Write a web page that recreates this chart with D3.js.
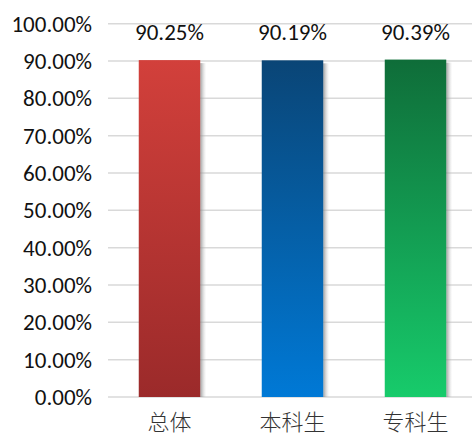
<!DOCTYPE html>
<html><head><meta charset="utf-8">
<script src="https://cdn.jsdelivr.net/npm/d3@7"></script>
<style>body{margin:0;background:#fff}</style>
</head><body>
<svg id="c" width="472" height="436"></svg>
<script>
const categories = ["总体", "本科生", "专科生"];
const values = [90.25, 90.19, 90.39];
const yTicks = [0,10,20,30,40,50,60,70,80,90,100];
const gradTop = ["#d2403b", "#0a4576", "#0f6d39"];
const gradBottom = ["#9b2a2a", "#0079d6", "#17cb6b"];

const svg = d3.select("#c");
const x = d3.scaleBand().domain(categories).range([108, 477]).paddingInner(0.5).paddingOuter(0.25);
const y = d3.scaleLinear().domain([0, 100]).range([397, 23.7]);

const defs = svg.append("defs");
categories.forEach((c, i) => {
  const g = defs.append("linearGradient").attr("id", "g" + i).attr("x1", 0).attr("y1", 0).attr("x2", 0).attr("y2", 1);
  g.append("stop").attr("offset", "0%").attr("stop-color", gradTop[i]);
  g.append("stop").attr("offset", "100%").attr("stop-color", gradBottom[i]);
});
const sh = defs.append("linearGradient").attr("id", "sh").attr("x1", 0).attr("x2", 1);
sh.append("stop").attr("offset", "0%").attr("stop-color", "#888").attr("stop-opacity", 0.8);
sh.append("stop").attr("offset", "100%").attr("stop-color", "#ccc").attr("stop-opacity", 0);

// grid
svg.append("g").selectAll("line").data(yTicks).join("line")
  .attr("x1", 108).attr("x2", 472)
  .attr("y1", d => y(d)).attr("y2", d => y(d))
  .attr("stroke", "#d9d9d9").attr("stroke-width", 1.5);

// y axis labels
const yAxis = d3.axisLeft(y).tickValues(yTicks).tickFormat(d => d.toFixed(2) + "%").tickSize(0).tickPadding(0);
const ga = svg.append("g").attr("transform", "translate(92,0)").call(yAxis);
ga.select(".domain").remove();
ga.selectAll("text").attr("font-family", "Carlito, 'Open Sans', sans-serif").attr("font-size", 23).attr("fill", "#111");

// shadows
svg.append("g").selectAll("rect").data(values).join("rect")
  .attr("x", (d, i) => x(categories[i]) + x.bandwidth())
  .attr("y", d => y(d) + 3)
  .attr("width", 6)
  .attr("height", d => y(0) - y(d) - 3)
  .attr("fill", "url(#sh)");

// bars
svg.append("g").selectAll("rect").data(values).join("rect")
  .attr("x", (d, i) => x(categories[i]))
  .attr("y", d => y(d))
  .attr("width", x.bandwidth())
  .attr("height", d => y(0) - y(d))
  .attr("fill", (d, i) => `url(#g${i})`);

// value labels
svg.append("g").selectAll("text").data(values).join("text")
  .attr("x", (d, i) => x(categories[i]) + x.bandwidth() / 2)
  .attr("y", 40)
  .attr("text-anchor", "middle")
  .attr("font-family", "Carlito, 'Open Sans', sans-serif").attr("font-size", 23).attr("fill", "#111")
  .text(d => d.toFixed(2) + "%");

// category labels
const xAxis = d3.axisBottom(x).tickSize(0).tickPadding(0);
const gx = svg.append("g").attr("transform", "translate(0,414)").call(xAxis);
gx.select(".domain").remove();
gx.selectAll("text").attr("font-family", "'Noto Sans CJK SC', sans-serif").attr("font-weight", 300).attr("font-size", 22).attr("fill", "#333");
</script>
</body></html>
